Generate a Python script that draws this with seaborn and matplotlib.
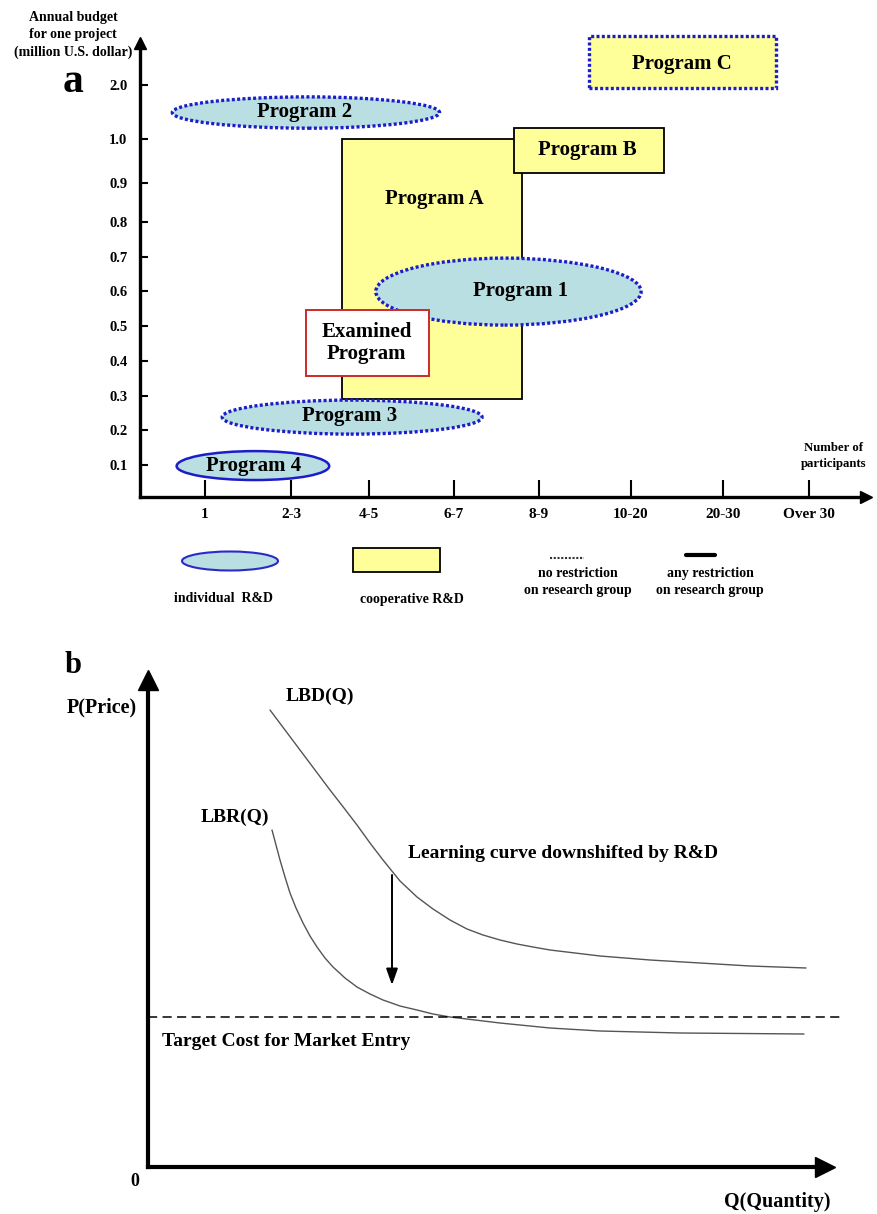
import numpy as np
import pandas as pd
import matplotlib
matplotlib.use('Agg')
import matplotlib.pyplot as plt
import seaborn as sns
from matplotlib.patches import Ellipse, Rectangle

# ---------------- panel a: programs by group size and budget ----------------
participants = ['1', '2-3', '4-5', '6-7', '8-9', '10-20', '20-30', 'Over 30']
budget_ticks = [0.1, 0.2, 0.3, 0.4, 0.5, 0.6, 0.7, 0.8, 0.9, 1.0, 2.0]
budget_labels = ['0.1', '0.2', '0.3', '0.4', '0.5', '0.6', '0.7', '0.8', '0.9', '1.0', '2.0']

prog_names = ['Program A', 'Program B', 'Program C', 'Program 1', 'Program 2',
              'Program 3', 'Program 4', 'Examined\nProgram']
prog_kind = ['coop', 'coop', 'coop', 'indiv', 'indiv', 'indiv', 'indiv', 'examined']
prog_open = [False, False, True, True, True, True, False, False]  # no restriction on group
# extents: participant group index / million U.S. dollar
prog_x0 = [1.66, 3.71, 4.54, 2.08, -0.38, 0.20, -0.33, 1.19]
prog_x1 = [3.80, 5.36, 6.62, 5.11, 2.83, 3.33, 1.49, 2.71]
prog_y0 = [0.29, 0.923, 1.94, 0.503, 1.20, 0.189, 0.053, 0.356]
prog_y1 = [1.00, 1.20, 2.90, 0.696, 1.78, 0.287, 0.14, 0.547]
label_x = [2.77, 4.53, 5.55, 3.78, 1.17, 1.75, 0.56, 1.97]
label_y = [0.86, 0.975, 2.39, 0.601, 1.50, 0.241, 0.097, 0.451]

# ---------------- panel b: learning curves ----------------
lbd_q = [1.22, 1.37, 1.52, 1.67, 1.82, 1.96, 2.09, 2.22, 2.35, 2.52, 2.69, 2.85, 3.02,
         3.19, 3.35, 3.52, 3.69, 3.85, 4.02, 4.52, 5.02, 5.52, 6.02, 6.58]
lbd_p = [4.57, 4.37, 4.17, 3.97, 3.77, 3.59, 3.42, 3.24, 3.07, 2.86, 2.70, 2.58, 2.47,
         2.38, 2.32, 2.27, 2.23, 2.20, 2.17, 2.11, 2.07, 2.04, 2.01, 1.99]
lbr_q = [1.24, 1.28, 1.32, 1.37, 1.42, 1.48, 1.55, 1.62, 1.69, 1.77, 1.85, 1.97, 2.09,
         2.22, 2.35, 2.52, 2.69, 2.85, 3.02, 3.27, 3.52, 4.02, 4.52, 5.32, 6.56]
lbr_p = [3.37, 3.22, 3.07, 2.90, 2.74, 2.59, 2.44, 2.31, 2.20, 2.09, 2.00, 1.89, 1.80,
         1.73, 1.67, 1.61, 1.57, 1.53, 1.50, 1.47, 1.44, 1.39, 1.36, 1.34, 1.33]
target_cost = 1.5
shift_q, shift_from, shift_to = 2.44, 2.92, 1.82

W, H = 877, 1214
BLUE_FILL = '#b9dfe3'
YELLOW = '#ffff99'
DOT_BLUE = '#1c1cc8'

sns.set_theme(style='white', rc={'axes.edgecolor': 'black', 'text.color': 'black',
                                 'xtick.color': 'black', 'ytick.color': 'black'})
plt.rcParams['font.family'] = ['Liberation Serif', 'DejaVu Serif']
plt.rcParams['font.weight'] = 'bold'

fig = plt.figure(figsize=(W / 100, H / 100), dpi=100)


def box(left, right, bottom, top):
    # figure rectangle from pixel edges
    return [left / W, 1 - bottom / H, (right - left) / W, (bottom - top) / H]


# ---- panel a axes with uneven category / budget spacing ----
grp_knots = np.arange(-1, 9)
grp_px = np.array([119, 205, 291, 369, 454, 539, 631, 723, 809, 895])
bud_knots = np.array([0, 0.1, 0.8, 0.9, 1.0, 2.0, 3.0])
bud_px = np.array([497, 465, 222, 183, 139, 85, 31])

ax = fig.add_axes(box(140, 866, 497, 43))
ax.patch.set_visible(False)
ax.set_xscale('function', functions=(lambda v: np.interp(v, grp_knots, grp_px),
                                      lambda p: np.interp(p, grp_px, grp_knots)))
ax.set_yscale('function', functions=(lambda v: -np.interp(v, bud_knots, bud_px),
                                      lambda p: np.interp(p, -bud_px, bud_knots)))
ax.set_xlim(np.interp(140, grp_px, grp_knots), np.interp(866, grp_px, grp_knots))
ax.set_ylim(0, np.interp(-43, -bud_px, bud_knots))

for i in range(len(prog_names)):
    x0, x1, y0, y1 = prog_x0[i], prog_x1[i], prog_y0[i], prog_y1[i]
    ls = (0, (0.9, 0.7)) if prog_open[i] else '-'
    if prog_kind[i] == 'indiv':
        p = Ellipse(((x0 + x1) / 2, (y0 + y1) / 2), x1 - x0, y1 - y0,
                    facecolor=BLUE_FILL, edgecolor=DOT_BLUE,
                    lw=2.4 if prog_open[i] else 1.8, linestyle=ls, zorder=3)
    elif prog_kind[i] == 'coop':
        p = Rectangle((x0, y0), x1 - x0, y1 - y0, facecolor=YELLOW,
                      edgecolor=DOT_BLUE if prog_open[i] else 'black',
                      lw=2.4 if prog_open[i] else 1.3, linestyle=ls,
                      zorder=2 if i == 0 else 3)
    else:
        p = Rectangle((x0, y0), x1 - x0, y1 - y0, facecolor='white',
                      edgecolor='#cc2a2a', lw=1.4, zorder=4)
    p.set_clip_on(False)
    ax.add_patch(p)
    ax.text(label_x[i], label_y[i], prog_names[i], ha='center', va='center',
            fontsize=15, fontweight='bold', linespacing=1.1, zorder=5)

sns.despine(ax=ax)
ax.spines['left'].set_linewidth(2.4)
ax.spines['bottom'].set_linewidth(2.4)
ax.set_xticks(range(len(participants)))
ax.set_xticklabels(participants, fontweight='bold', fontsize=11)
ax.set_yticks(budget_ticks)
ax.set_yticklabels(budget_labels, fontweight='bold', fontsize=10.5)
ax.tick_params(axis='x', bottom=True, direction='in', length=12, width=1.5, pad=8)
ax.tick_params(axis='y', left=True, direction='in', length=6, width=1.5, pad=9)
ax.plot([1], [0], marker='>', ms=8, color='black', transform=ax.transAxes, clip_on=False)
ax.plot([0], [1], marker='^', ms=8, color='black', transform=ax.transAxes, clip_on=False)

# ---- panel b ----
curves = pd.concat([
    pd.DataFrame({'Q': lbd_q, 'P': lbd_p, 'curve': 'LBD(Q)'}),
    pd.DataFrame({'Q': lbr_q, 'P': lbr_p, 'curve': 'LBR(Q)'}),
])
axb = fig.add_axes(box(148, 842, 1167, 690))
axb.patch.set_visible(False)
sns.lineplot(data=curves, x='Q', y='P', hue='curve', palette=['#555555', '#555555'],
             estimator=None, sort=False, lw=1.0, legend=False, ax=axb)
axb.axhline(target_cost, color='black', lw=1.1, linestyle=(0, (6, 3.5)))
axb.annotate('', xy=(shift_q, shift_to), xytext=(shift_q, shift_from),
             arrowprops=dict(arrowstyle='-|>,head_length=0.7,head_width=0.25',
                             color='black', lw=1.4, mutation_scale=14, shrinkA=0, shrinkB=0))
axb.set_xlim(0, 6.94)
axb.set_ylim(0, 4.77)
axb.set_xticks([])
axb.set_yticks([])
axb.set_xlabel('')
axb.set_ylabel('')
sns.despine(ax=axb)
axb.spines['left'].set_linewidth(3)
axb.spines['bottom'].set_linewidth(3)
axb.spines['bottom'].set_bounds(0, 6.78)
axb.plot([0.975], [0], marker='>', ms=15, color='black', transform=axb.transAxes, clip_on=False)
axb.plot([0], [1.02], marker='^', ms=15, color='black', transform=axb.transAxes, clip_on=False)

axb.text(1.72, 4.71, 'LBD(Q)', ha='center', va='center', fontsize=14, fontweight='bold')
axb.text(0.87, 3.50, 'LBR(Q)', ha='center', va='center', fontsize=14, fontweight='bold')
axb.text(2.60, 3.13, 'Learning curve downshifted by R&D', ha='left', va='center',
         fontsize=14, fontweight='bold')
axb.text(0.14, 1.26, 'Target Cost for Market Entry', ha='left', va='center',
         fontsize=14, fontweight='bold')

# overlay in pixel units for titles and the key
over = fig.add_axes([0, 0, 1, 1])
over.set_xlim(0, W)
over.set_ylim(H, 0)
over.axis('off')
over.set_zorder(10)

over.text(73, 35, 'Annual budget\nfor one project\n(million U.S. dollar)', ha='center',
          va='center', fontsize=10, fontweight='bold', linespacing=1.4)
over.text(73, 92, 'a', ha='center', va='baseline', fontsize=30, fontweight='bold')
over.text(834, 456, 'Number of\nparticipants', ha='center', va='center',
          fontsize=9.2, fontweight='bold', linespacing=1.4)

# key below panel a
over.add_patch(Ellipse((230, 561), 96, 19, facecolor=BLUE_FILL, edgecolor='#2a2ac8', lw=1.5))
over.add_patch(Rectangle((353, 548), 87, 24, facecolor=YELLOW, edgecolor='black', lw=1.3))
over.plot([550, 584], [558, 558], color='#333333', lw=1.5, linestyle=(0, (1, 0.8)))
over.plot([686, 715], [555, 555], color='black', lw=3)
over.text(223, 599, 'individual  R&D', ha='center', va='center', fontsize=10, fontweight='bold')
over.text(412, 599, 'cooperative R&D', ha='center', va='center', fontsize=10, fontweight='bold')
over.text(578, 582, 'no restriction\non research group', ha='center', va='center',
          fontsize=10, fontweight='bold', linespacing=1.35)
over.text(710, 582, 'any restriction\non research group', ha='center', va='center',
          fontsize=10, fontweight='bold', linespacing=1.35)

over.text(73, 673, 'b', ha='center', va='baseline', fontsize=22, fontweight='bold')
over.text(102, 707, 'P(Price)', ha='center', va='center', fontsize=14.5, fontweight='bold')
over.text(135, 1182, '0', ha='center', va='center', fontsize=13, fontweight='bold')
over.text(777, 1202, 'Q(Quantity)', ha='center', va='center', fontsize=14.5, fontweight='bold')

fig.savefig('out.png', dpi=100)
